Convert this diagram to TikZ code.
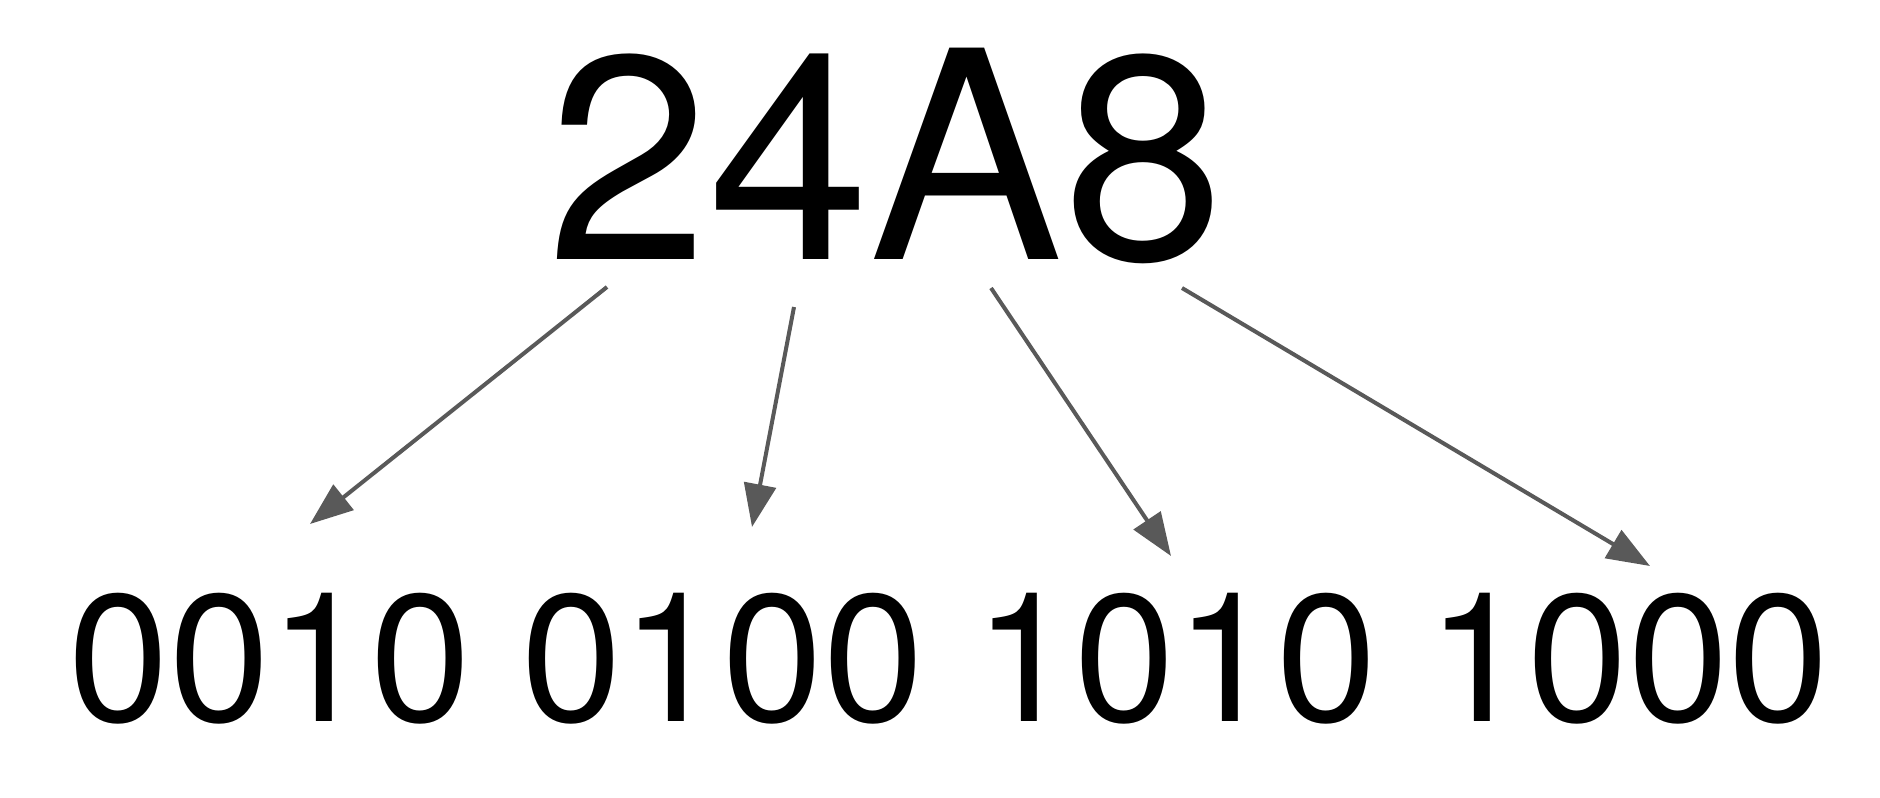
\documentclass[tikz,border=0pt]{standalone}
\usepackage{fontspec}
\setmainfont{TeX Gyre Heros}
\usepackage{tikz}
\usetikzlibrary{arrows.meta}
\usepackage{xcolor}
\definecolor{arrowgray}{HTML}{595959}

\begin{document}
\begin{tikzpicture}[x=0.5pt,y=-0.5pt,
    hexnum/.style={anchor=base,inner sep=0pt,font=\fontsize{145pt}{145pt}\selectfont},
    binnum/.style={anchor=base,inner sep=0pt,font=\fontsize{90.5pt}{90.5pt}\selectfont},
    conv/.style={draw=arrowgray,line width=2pt,-{Triangle[length=21.5pt,width=16pt,fill=arrowgray]}}]
   \useasboundingbox (0,0) rectangle (1880,798);
   \node[hexnum] (hex) at (886,259) {24A8};
   \node[binnum] (bin) at (949,721) {0010 0100 1010 1000};

   % start and end of each arrow
   \coordinate (s1) at (607,287);  \coordinate (e1) at (310,524);
   \coordinate (s2) at (794,307);  \coordinate (e2) at (752,527);
   \coordinate (s3) at (991,288);  \coordinate (e3) at (1171,556);
   \coordinate (s4) at (1182,288); \coordinate (e4) at (1650,566);

   \foreach \i in {1,2,3,4}
      \draw[conv] (s\i) -- (e\i);
   %\draw[conv] (hex) -- (bin);
\end{tikzpicture}
\end{document}
